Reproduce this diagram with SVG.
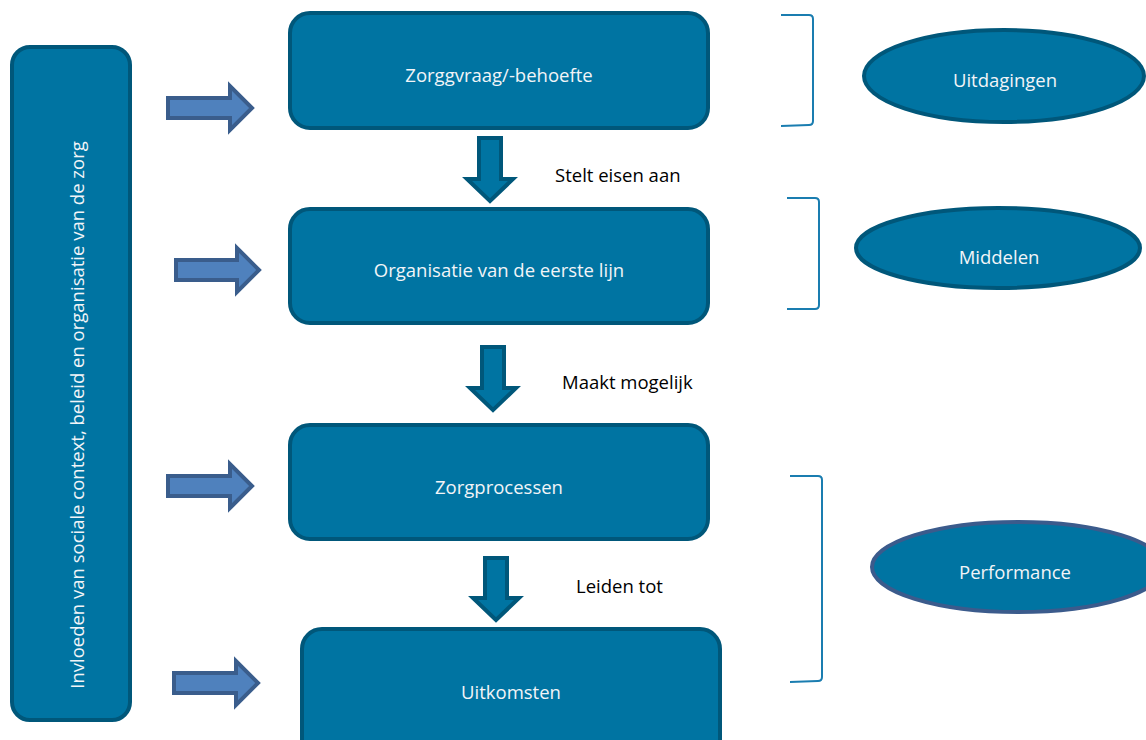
<svg xmlns="http://www.w3.org/2000/svg" width="1146" height="740" viewBox="0 0 1146 740">
<defs>
<style>
.box{fill:#0074A2;stroke:#00577A;stroke-width:4}
.ell{fill:#0074A2;stroke:#00577A;stroke-width:4}
.ell2{fill:#0074A2;stroke:#3B5B8C;stroke-width:4}
.rarr{fill:#4F81BD;stroke:#3A5D8C;stroke-width:4;stroke-linejoin:miter}
.darr{fill:#0074A2;stroke:#00577A;stroke-width:4;stroke-linejoin:miter}
.brk{fill:none;stroke:#1A7DB0;stroke-width:2}
.wt{font-family:"Open Sans","Liberation Sans",sans-serif;font-size:18.5px;fill:#F2F4F8;text-anchor:middle}
.lbl{font-family:"Open Sans","Liberation Sans",sans-serif;font-size:18.5px;fill:#000}
</style>
</defs>
<g id="influences">
<rect class="box" x="12" y="47" width="118" height="673" rx="18"/>
<text class="wt" transform="translate(84,415) rotate(-90)">Invloeden van sociale context, beleid en organisatie van de zorg</text>
</g>
<g id="zorgvraag">
<rect class="box" x="290" y="13" width="418" height="115" rx="20"/>
<text class="wt" x="499" y="82">Zorggvraag/-behoefte</text>
</g>
<g id="organisatie">
<rect class="box" x="290" y="209" width="418" height="114" rx="20"/>
<text class="wt" x="499" y="277">Organisatie van de eerste lijn</text>
</g>
<g id="zorgprocessen">
<rect class="box" x="290" y="425" width="418" height="114" rx="20"/>
<text class="wt" x="499" y="494">Zorgprocessen</text>
</g>
<g id="uitkomsten">
<rect class="box" x="302" y="629" width="418" height="130" rx="20"/>
<text class="wt" x="511" y="699">Uitkomsten</text>
</g>
<g id="uitdagingen">
<ellipse class="ell" cx="1004" cy="76" rx="140" ry="46"/>
<text class="wt" x="1005" y="87">Uitdagingen</text>
</g>
<g id="middelen">
<ellipse class="ell" cx="998" cy="248" rx="142" ry="40"/>
<text class="wt" x="999" y="264">Middelen</text>
</g>
<g id="performance">
<ellipse class="ell2" cx="1018" cy="567" rx="146" ry="45"/>
<text class="wt" x="1015" y="579">Performance</text>
</g>
<g id="connectors">
<polygon class="rarr" points="168,98 230,98 230,86 252,108 230,130 230,118 168,118"/>
<polygon class="rarr" points="176,260 237,260 237,248 259,270 237,292 237,280 176,280"/>
<polygon class="rarr" points="168,476 230,476 230,464 252,486 230,508 230,496 168,496"/>
<polygon class="rarr" points="174,673 236,673 236,661 258,683 236,705 236,693 174,693"/>
<polygon class="darr" points="479,138 501,138 501,179 513,179 490,201 467,179 479,179"/>
<polygon class="darr" points="482,347 504,347 504,388 516,388 493,410 470,388 482,388"/>
<polygon class="darr" points="485,558 507,558 507,598 519,598 496,620 473,598 485,598"/>
<path class="brk" d="M781,15 L809,15 Q813,15 813,19 L813,121 Q813,125 809,125 L781,126"/>
<path class="brk" d="M787,198 L815,198 Q819,198 819,202 L819,305 Q819,309 815,309 L787,309"/>
<path class="brk" d="M790,476 L818,476 Q822,476 822,480 L822,677 Q822,681 818,681 L790,682"/>
<text class="lbl" x="555" y="182">Stelt eisen aan</text>
<text class="lbl" x="562" y="389">Maakt mogelijk</text>
<text class="lbl" x="576" y="593">Leiden tot</text>
</g>
</svg>
